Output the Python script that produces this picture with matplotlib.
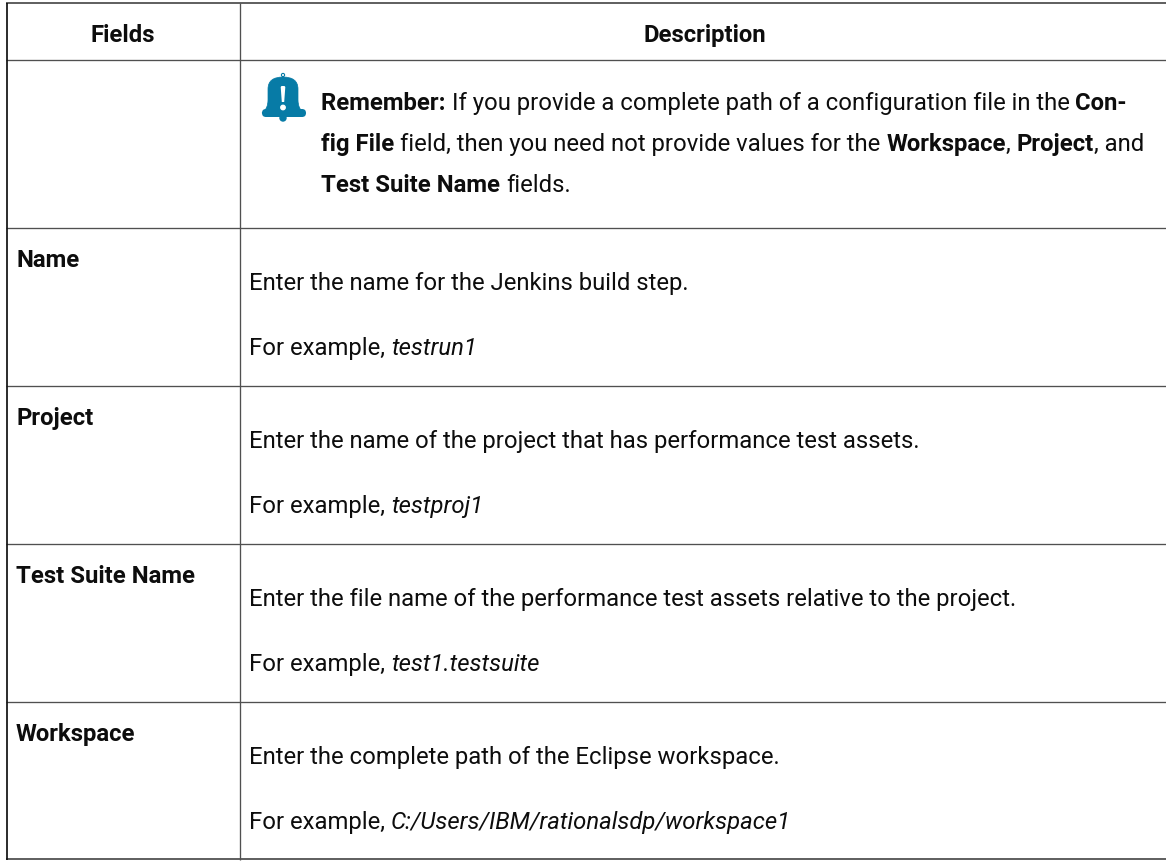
import matplotlib
matplotlib.use("Agg")
import matplotlib.pyplot as plt
from matplotlib.patches import Circle, PathPatch, FancyBboxPatch, Polygon
from matplotlib.path import Path

W, H = 1166, 862
plt.rcParams['font.family'] = ['Roboto', 'DejaVu Sans']

headers = ["Fields", "Description"]
row_fields = ["Name", "Project", "Test Suite Name", "Workspace"]
row_desc = ["Enter the name for the Jenkins build step.",
            "Enter the name of the project that has performance test assets.",
            "Enter the file name of the performance test assets relative to the project.",
            "Enter the complete path of the Eclipse workspace."]
row_examples = ["testrun1", "testproj1", "test1.testsuite", "C:/Users/IBM/rationalsdp/workspace1"]
h_lines = [4, 61, 229, 387, 545, 703, 860]

fig = plt.figure(figsize=(W/100, H/100), dpi=100)
ax = fig.add_axes([0, 0, 1, 1])
ax.set_xlim(0, W); ax.set_ylim(H, 0); ax.axis('off')
fs = 17.2
ink = '#0d0d0d'
for i, y in enumerate(h_lines):
    dark = i in (0, 6)
    ax.plot([6, W], [y, y], color='#333333' if dark else '#505050', lw=1.1 if dark else 0.95, solid_capstyle='butt')
ax.plot([7, 7], [4, 861], color='#111111', lw=1.25, solid_capstyle='butt')
ax.plot([239.5, 239.5], [4, 861], color='#505050', lw=0.95, solid_capstyle='butt')

ax.text(123, 42, headers[0], ha='center', va='baseline', fontsize=fs, fontweight='bold', color=ink)
ax.text(705, 42, headers[1], ha='center', va='baseline', fontsize=fs, fontweight='bold', color=ink)

# bell icon
bell = '#077ba6'
verts = [(262, 114), (268, 110), (268, 101), (268, 90), (268, 78), (283, 78), (298, 78), (298, 90),
         (298, 101), (298, 110), (304, 114), (262, 114)]
codes = [Path.MOVETO, Path.CURVE3, Path.CURVE3, Path.LINETO, Path.CURVE3, Path.CURVE3, Path.CURVE3, Path.CURVE3,
         Path.LINETO, Path.CURVE3, Path.CURVE3, Path.CLOSEPOLY]
ax.add_patch(PathPatch(Path(verts, codes), fc=bell, ec=bell, lw=0.5))
ax.add_patch(FancyBboxPatch((262, 110), 44, 8, boxstyle='round,pad=0,rounding_size=4', fc=bell, ec='none'))
ax.add_patch(Circle((283, 119), 3, color=bell))
ax.add_patch(Circle((283, 76), 1.6, fc='white', ec=bell, lw=0.8))
ax.add_patch(Polygon([(280.7, 88), (281.5, 87), (284.5, 87), (285.3, 88), (284.2, 103), (281.8, 103)], fc='white', ec='none', zorder=4))
ax.add_patch(Circle((283, 108.5), 2.2, color='white', zorder=4))

def rich(x, y, parts):
    r = fig.canvas.get_renderer()
    for s, w, st in parts:
        t = ax.text(x, y, s, fontsize=fs, fontweight=w, fontstyle=st, va='baseline', color=ink)
        x += t.get_window_extent(r).width

rich(321, 110, [("Remember: ", 'bold', 'normal'), ("If you provide a complete path of a configuration file in the ", 'normal', 'normal'), ("Con-", 'bold', 'normal')])
rich(321, 151, [("fig File ", 'bold', 'normal'), ("field, then you need not provide values for the ", 'normal', 'normal'), ("Workspace", 'bold', 'normal'), (", ", 'normal', 'normal'), ("Project", 'bold', 'normal'), (", and", 'normal', 'normal')])
rich(321, 192, [("Test Suite Name ", 'bold', 'normal'), ("fields.", 'normal', 'normal')])

for f, d, e, top in zip(row_fields, row_desc, row_examples, h_lines[2:]):
    ax.text(16, top + 38, f, fontsize=fs, fontweight='bold', va='baseline', color=ink)
    ax.text(249, top + 61, d, fontsize=fs, va='baseline', color=ink)
    rich(249, top + 126, [("For example, ", 'normal', 'normal'), (e, 'normal', 'italic')])

fig.savefig('out.png', dpi=100)
